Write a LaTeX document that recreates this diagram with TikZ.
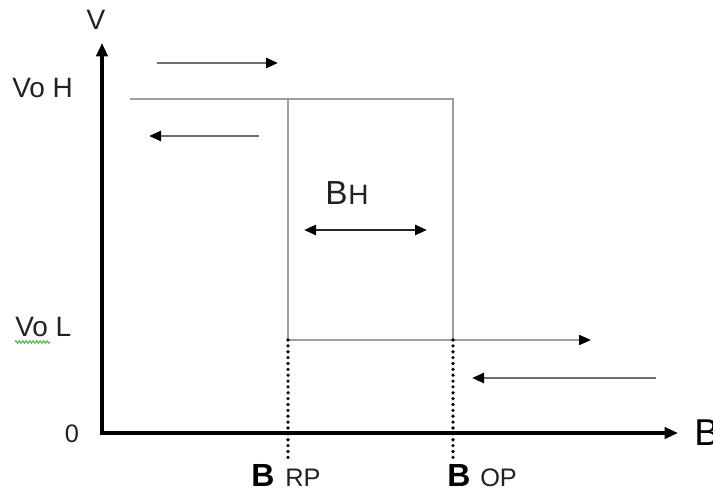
\documentclass[tikz,border=0pt]{standalone}
\usepackage{fontspec}
\setmainfont{Liberation Sans}
\usetikzlibrary{arrows.meta,decorations.pathmorphing}
\definecolor{rectgray}{HTML}{A0A0A0}
\definecolor{arrgray}{HTML}{6E6E6E}
\definecolor{txt}{HTML}{222222}
\begin{document}
\begin{tikzpicture}[x=0.75pt,y=-0.75pt,
  axis/.style={line width=3pt,black,-{Triangle[length=10pt,width=8.5pt]}},
  loop/.style={line width=1.5pt,rectgray},
  dir/.style={line width=1.9pt,arrgray,-{Triangle[length=9pt,width=7.5pt,color=black]}},
  dots/.style={line width=2.7pt,black,line cap=round,dash pattern=on 0pt off 4.4pt},
  lbl/.style={inner sep=0pt,text=txt,font=\fontsize{21}{24}\selectfont},
]
\useasboundingbox[fill=white] (0,0) rectangle (713,491);
% axes
\coordinate (O) at (102,433);
\coordinate (Ytip) at (102,43);
\coordinate (Xtip) at (678,433);
\draw[axis] (102,434.5) -- (Ytip);
\draw[axis] (100.5,433) -- (Xtip);
% loop corners
\coordinate (hl) at (130,99);
\coordinate (a) at (288,99);
\coordinate (b) at (453,99);
\coordinate (c) at (288,340);
\coordinate (d) at (453,340);
\coordinate (lowtip) at (591,340);
\coordinate (ra) at (288,462);
\coordinate (rb) at (453,462);
\draw[loop] (hl) -- (b) -- (d);
\draw[loop] (a) -- (c) -- (d);
\draw[loop,-{Triangle[length=9pt,width=7.5pt,color=black]}] (d) -- (lowtip);
\draw[dots] (c) -- (ra);
\draw[dots] (d) -- (rb);
% direction arrows
\coordinate (t1s) at (157,63); \coordinate (t1e) at (278,63);
\coordinate (t2s) at (259,136); \coordinate (t2e) at (149,136);
\coordinate (t3s) at (656,378); \coordinate (t3e) at (472,378);
\draw[dir] (t1s) -- (t1e);
\draw[dir] (t2s) -- (t2e);
\draw[dir] (t3s) -- (t3e);
% hysteresis width
\coordinate (h1) at (304,230); \coordinate (h2) at (427,230);
\draw[line width=1.9pt,black!85,{Triangle[length=9pt,width=7.5pt,color=black]}-{Triangle[length=9pt,width=7.5pt,color=black]}] (h1) -- (h2);
% labels
\node[lbl] (V) at (96,20) {V};
\node[lbl,anchor=west] (VoH) at (12,88) {Vo H};
\node[lbl,anchor=west] (VoL) at (15,327) {Vo L};
\node[lbl,font=\fontsize{19}{22}\selectfont] (zero) at (72,434) {0};
\draw[green!60!black!70,line width=0.8pt,decorate,decoration={zigzag,amplitude=0.9pt,segment length=2.6pt}] (15,342) -- (50,342);
\node[lbl,anchor=base west,text=black,font=\fontsize{28}{32}\selectfont] (Bax) at (694,445) {B};
\node[lbl,anchor=base west,text=black,font=\fontsize{24}{28}\bfseries] (B1) at (251,486) {B};
\node[lbl,anchor=base west,font=\fontsize{19}{22}\selectfont] (RP) at (285,486) {RP};
\node[lbl,anchor=base west,text=black,font=\fontsize{24}{28}\bfseries] (B2) at (447,486) {B};
\node[lbl,anchor=base west,font=\fontsize{19}{22}\selectfont] (OP) at (480,486) {OP};
\node[lbl,anchor=base west,font=\fontsize{25}{30}\selectfont] (BH1) at (325,205) {B};
\node[lbl,anchor=base west,font=\fontsize{21}{24}\selectfont] (BH2) at (348,205) {H};
\end{tikzpicture}
\end{document}
